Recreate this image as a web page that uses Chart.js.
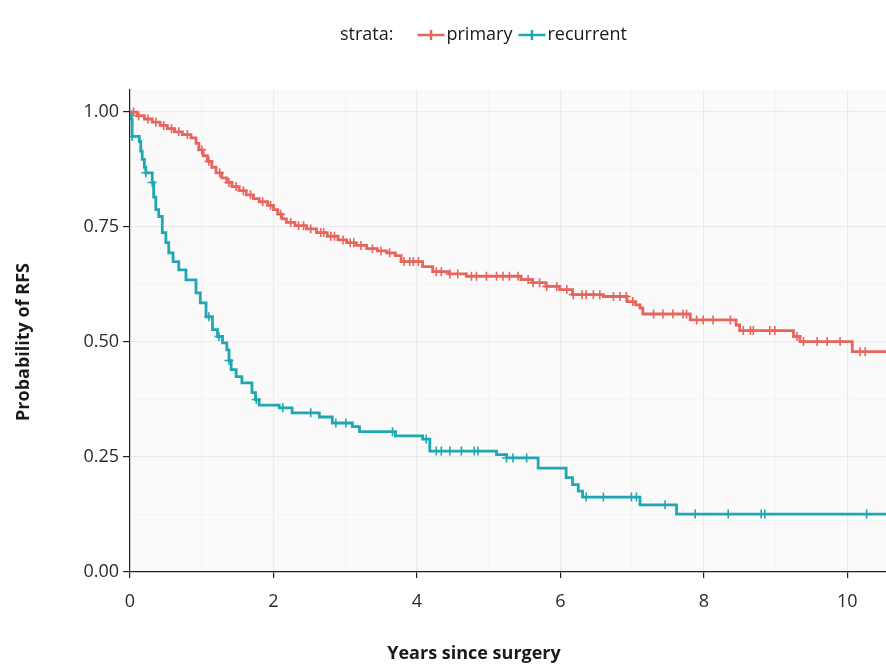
<!DOCTYPE html>
<html>
<head>
<meta charset="utf-8">
<script src="https://cdn.jsdelivr.net/npm/chart.js@4.4.1/dist/chart.umd.min.js"></script>
<style>
  html, body { margin: 0; padding: 0; background: #ffffff; }
  #wrap { width: 886px; height: 671px; position: relative; }
</style>
</head>
<body>
<div id="wrap"><canvas id="km" width="886" height="671"></canvas></div>
<script>
// --- data (time in years, survival after each drop) ---
const primaryTimes = [0, 0.1, 0.2, 0.31, 0.42, 0.52, 0.62, 0.73, 0.85, 0.92, 0.96, 1.02, 1.08, 1.14, 1.2, 1.28, 1.35, 1.42, 1.52, 1.62, 1.72, 1.8, 1.92, 2.0, 2.06, 2.12, 2.18, 2.3, 2.46, 2.6, 2.75, 2.9, 3.02, 3.15, 3.3, 3.45, 3.58, 3.7, 3.78, 4.08, 4.22, 4.45, 4.69, 5.45, 5.61, 5.8, 5.99, 6.17, 6.6, 6.93, 7.05, 7.11, 7.15, 7.81, 8.45, 8.5, 9.25, 9.34, 10.07];
const primarySurv = [1.0, 0.992, 0.985, 0.978, 0.971, 0.964, 0.957, 0.951, 0.944, 0.932, 0.918, 0.905, 0.893, 0.88, 0.868, 0.857, 0.847, 0.838, 0.829, 0.82, 0.812, 0.805, 0.797, 0.788, 0.778, 0.768, 0.76, 0.753, 0.746, 0.738, 0.73, 0.722, 0.716, 0.71, 0.703, 0.698, 0.694, 0.688, 0.675, 0.664, 0.653, 0.648, 0.643, 0.636, 0.629, 0.621, 0.614, 0.603, 0.599, 0.588, 0.581, 0.574, 0.561, 0.548, 0.537, 0.525, 0.512, 0.501, 0.479];
const primaryCensor = [0.05, 0.12, 0.25, 0.36, 0.47, 0.58, 0.68, 0.8, 1.0, 1.1, 1.25, 1.38, 1.48, 1.58, 1.68, 1.85, 1.96, 2.1, 2.24, 2.35, 2.42, 2.52, 2.66, 2.7, 2.8, 2.85, 2.97, 3.07, 3.12, 3.22, 3.38, 3.5, 3.62, 3.82, 3.9, 3.95, 4.02, 4.27, 4.34, 4.46, 4.57, 4.76, 4.83, 4.97, 5.11, 5.2, 5.29, 5.41, 5.55, 5.62, 5.71, 5.81, 5.95, 6.09, 6.18, 6.3, 6.36, 6.46, 6.55, 6.74, 6.83, 6.92, 7.01, 7.3, 7.43, 7.57, 7.71, 7.76, 7.9, 7.99, 8.13, 8.37, 8.55, 8.65, 8.69, 8.92, 8.99, 9.3, 9.39, 9.58, 9.72, 9.9, 10.18, 10.25];

const recurrentTimes = [0, 0.02, 0.03, 0.13, 0.15, 0.17, 0.2, 0.22, 0.31, 0.33, 0.36, 0.4, 0.45, 0.5, 0.54, 0.6, 0.68, 0.78, 0.92, 0.98, 1.06, 1.15, 1.22, 1.29, 1.35, 1.38, 1.41, 1.48, 1.56, 1.7, 1.75, 1.8, 2.08, 2.26, 2.64, 2.82, 3.1, 3.2, 3.7, 4.08, 4.18, 5.11, 5.25, 5.69, 6.08, 6.17, 6.25, 6.31, 7.11, 7.62];
const recurrentSurv = [1.0, 0.984, 0.947, 0.936, 0.915, 0.897, 0.88, 0.868, 0.847, 0.815, 0.788, 0.773, 0.738, 0.716, 0.694, 0.675, 0.657, 0.635, 0.607, 0.585, 0.555, 0.527, 0.512, 0.498, 0.483, 0.46, 0.44, 0.425, 0.411, 0.39, 0.375, 0.363, 0.357, 0.346, 0.337, 0.324, 0.316, 0.305, 0.296, 0.289, 0.263, 0.255, 0.248, 0.226, 0.205, 0.19, 0.176, 0.163, 0.146, 0.126];
const recurrentCensor = [0.03, 0.22, 0.31, 1.1, 1.24, 1.38, 1.76, 2.13, 2.52, 2.87, 3.01, 3.66, 4.13, 4.27, 4.34, 4.46, 4.62, 4.8, 4.85, 5.25, 5.34, 5.53, 6.36, 6.6, 6.99, 7.06, 7.46, 7.88, 8.34, 8.8, 8.85, 10.27];

const strataLabels = ['primary', 'recurrent'];
const xTicks = [0, 2, 4, 6, 8, 10];
const yTicks = [0, 0.25, 0.5, 0.75, 1];
const X_MAX = 10.54;
const Y_MAX = 1.048;

const RED = '#e8655e';
const TEAL = '#1fa8b3';
const FONT = '"Open Sans", "Noto Sans", sans-serif';

// survival value at time t (step function)
function survAt(times, surv, t) {
    let s = surv[0];
    for (let i = 0; i < times.length; i++) {
        if (times[i] <= t) s = surv[i];
    }
    return s;
}

function stepData(times, surv) {
    const pts = times.map((t, i) => ({ x: t, y: surv[i] }));
    pts.push({ x: X_MAX, y: surv[surv.length - 1] });
    return pts;
}

function censorData(cens, times, surv) {
    return cens.map(t => ({ x: t, y: survAt(times, surv, t) }));
}

// panel background, legend and axis titles
const kmDecor = {
    id: 'kmDecor',
    beforeDraw(chart) {
        const { ctx, chartArea: a } = chart;
        ctx.save();
        ctx.fillStyle = '#fbfafa';
        ctx.fillRect(a.left, a.top, a.right - a.left, a.bottom - a.top);
        ctx.restore();
    },
    afterDraw(chart) {
        const ctx = chart.ctx;
        ctx.save();
        ctx.fillStyle = '#1a1a1a';
        ctx.textBaseline = 'middle';
        ctx.font = '18px ' + FONT;

        // legend
        const ly = 35;
        let x = 340;
        ctx.textAlign = 'left';
        ctx.fillText('strata:', x, ly);
        x += ctx.measureText('strata:').width + 24;
        [RED, TEAL].forEach((col, i) => {
            ctx.strokeStyle = col;
            ctx.lineWidth = 2.5;
            ctx.beginPath();
            ctx.moveTo(x, ly);
            ctx.lineTo(x + 27, ly);
            ctx.moveTo(x + 13.5, ly - 5);
            ctx.lineTo(x + 13.5, ly + 5);
            ctx.stroke();
            x += 29;
            ctx.fillStyle = '#1a1a1a';
            ctx.fillText(strataLabels[i], x, ly);
            x += ctx.measureText(strataLabels[i]).width + 6;
        });

        // axis titles
        ctx.font = 'bold 18px ' + FONT;
        ctx.textAlign = 'center';
        ctx.fillText('Years since surgery', 474, 654);
        ctx.translate(24, 342);
        ctx.rotate(-Math.PI / 2);
        ctx.fillText('Probability of RFS', 0, 0);
        ctx.restore();
    }
};

const isMajor = (list, v) => list.some(t => Math.abs(t - v) < 1e-6);
const gridColor = list => c => (c.tick && isMajor(list, c.tick.value)) ? '#eeeaea' : '#f5f3f3';
const tickColor = list => c => (c.tick && isMajor(list, c.tick.value)) ? '#222' : 'rgba(0,0,0,0)';

new Chart(document.getElementById('km'), {
    type: 'scatter',
    data: {
        datasets: [
            {
                label: strataLabels[0],
                data: stepData(primaryTimes, primarySurv),
                showLine: true,
                stepped: true,
                borderColor: RED,
                borderWidth: 2.8,
                pointRadius: 0
            },
            {
                label: strataLabels[0] + ' censored',
                data: censorData(primaryCensor, primaryTimes, primarySurv),
                pointStyle: 'cross',
                pointRadius: 4.5,
                borderColor: RED,
                backgroundColor: RED,
                borderWidth: 1.6
            },
            {
                label: strataLabels[1],
                data: stepData(recurrentTimes, recurrentSurv),
                showLine: true,
                stepped: true,
                borderColor: TEAL,
                borderWidth: 2.8,
                pointRadius: 0
            },
            {
                label: strataLabels[1] + ' censored',
                data: censorData(recurrentCensor, recurrentTimes, recurrentSurv),
                pointStyle: 'cross',
                pointRadius: 4.5,
                borderColor: TEAL,
                backgroundColor: TEAL,
                borderWidth: 1.6
            }
        ]
    },
    options: {
        responsive: false,
        animation: false,
        layout: { autoPadding: false, padding: { top: 90, right: 0, left: 0, bottom: 0 } },
        plugins: {
            legend: { display: false },
            tooltip: { enabled: false }
        },
        scales: {
            x: {
                type: 'linear',
                min: 0,
                max: X_MAX,
                afterBuildTicks: s => { s.ticks = s.ticks.filter(t => Math.abs(t.value - Math.round(t.value)) < 1e-6); },
                afterFit: s => { s.height = 99; },
                ticks: {
                    stepSize: 1,
                    includeBounds: false,
                    maxTicksLimit: 30,
                    autoSkip: false,
                    maxRotation: 0,
                    padding: 13,
                    color: '#2b2b2b',
                    font: { family: FONT, size: 18 },
                    callback: v => isMajor(xTicks, v) ? String(Math.round(v)) : ''
                },
                grid: {
                    color: gridColor(xTicks),
                    lineWidth: 1.2,
                    tickLength: 6,
                    tickColor: tickColor(xTicks)
                },
                border: { display: true, color: '#222', width: 1.2 }
            },
            y: {
                type: 'linear',
                min: 0,
                max: Y_MAX,
                afterBuildTicks: s => {
                    s.ticks = s.ticks.filter(t => t.value <= 1.0001 && Math.abs(t.value * 8 - Math.round(t.value * 8)) < 1e-6);
                },
                afterFit: s => { s.width = 130; },
                ticks: {
                    stepSize: 0.125,
                    includeBounds: false,
                    maxTicksLimit: 30,
                    autoSkip: false,
                    padding: 4,
                    color: '#2b2b2b',
                    font: { family: FONT, size: 18 },
                    callback: v => isMajor(yTicks, v) ? v.toFixed(2) : ''
                },
                grid: {
                    color: gridColor(yTicks),
                    lineWidth: 1.2,
                    tickLength: 7,
                    tickColor: tickColor(yTicks)
                },
                border: { display: true, color: '#222', width: 1.2 }
            }
        }
    },
    plugins: [kmDecor]
});
</script>
</body>
</html>
